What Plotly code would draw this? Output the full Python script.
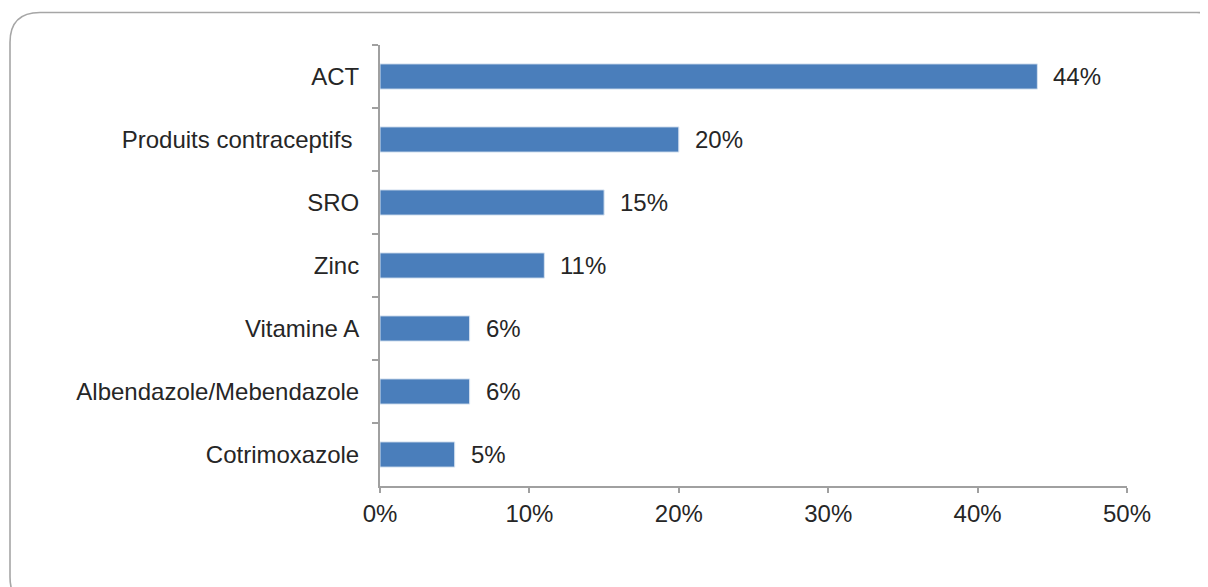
import plotly.graph_objects as go

categories = ["ACT", "Produits contraceptifs\u00a0", "SRO", "Zinc", "Vitamine A",
              "Albendazole/Mebendazole", "Cotrimoxazole"]
values = [0.44, 0.20, 0.15, 0.11, 0.06, 0.06, 0.05]
x_ticks = [0, 0.1, 0.2, 0.3, 0.4, 0.5]
x_tick_labels = ["0%", "10%", "20%", "30%", "40%", "50%"]

# page body has an 8px margin, so the figure is a bit smaller than the window
OFF = 8
W, H = 1208 - OFF, 587 - OFF
L, R, T, B = 380 - OFF, 81, 45 - OFF, 101
pw, ph = W - L - R, H - T - B

def px(x):
    return (x - OFF - L) / pw

def py(y):
    return (H - B - (y - OFF)) / ph

def rounded_box(x0, y0, x1, y1, r):
    pts = [
        "M %f,%f" % (px(x0 + r), py(y0)),
        "L %f,%f" % (px(x1 - r), py(y0)),
        "Q %f,%f %f,%f" % (px(x1), py(y0), px(x1), py(y0 + r)),
        "L %f,%f" % (px(x1), py(y1 - r)),
        "Q %f,%f %f,%f" % (px(x1), py(y1), px(x1 - r), py(y1)),
        "L %f,%f" % (px(x0 + r), py(y1)),
        "Q %f,%f %f,%f" % (px(x0), py(y1), px(x0), py(y1 - r)),
        "L %f,%f" % (px(x0), py(y0 + r)),
        "Q %f,%f %f,%f" % (px(x0), py(y0), px(x0 + r), py(y0)),
        "Z",
    ]
    return " ".join(pts)

text_color = "#262626"
axis_color = "#a0a0a0"
font = "Liberation Sans, Arial, sans-serif"

fig = go.Figure()
fig.add_trace(go.Bar(
    x=values,
    y=categories,
    orientation="h",
    marker=dict(color="#4a7ebb", line=dict(color="#d6e2f0", width=1)),
    hoverinfo="skip",
))

for v, c in zip(values, categories):
    fig.add_annotation(
        x=v, y=c, text="%d%%" % round(v * 100),
        xanchor="left", yanchor="middle", xshift=14, showarrow=False,
        font=dict(size=24, color=text_color, family=font),
    )

fig.add_shape(
    type="path", xref="paper", yref="paper",
    path=rounded_box(10, 12.5, 1227, 607, 30),
    line=dict(color="#a6a6a6", width=1.6),
    layer="below",
)

fig.update_layout(
    width=W, height=H,
    margin=dict(l=L, r=R, t=T, b=B),
    paper_bgcolor="white", plot_bgcolor="white",
    showlegend=False,
    bargap=0.6,
    font=dict(family=font, size=24, color=text_color),
    xaxis=dict(
        range=[0, 0.5], tickvals=x_ticks, ticktext=x_tick_labels,
        showgrid=False, zeroline=False,
        showline=True, linecolor=axis_color, linewidth=2,
        ticks="outside", ticklen=5, tickwidth=2, tickcolor=axis_color,
        tickfont=dict(size=24, color=text_color),
    ),
    yaxis=dict(
        type="category", categoryorder="array", categoryarray=categories,
        autorange="reversed", tickson="boundaries",
        showgrid=False, zeroline=False,
        showline=True, linecolor=axis_color, linewidth=2,
        ticks="outside", ticklen=6, tickwidth=2, tickcolor=axis_color,
        ticklabelstandoff=14,
        tickfont=dict(size=24, color=text_color),
    ),
)

fig.write_html("out.html")
